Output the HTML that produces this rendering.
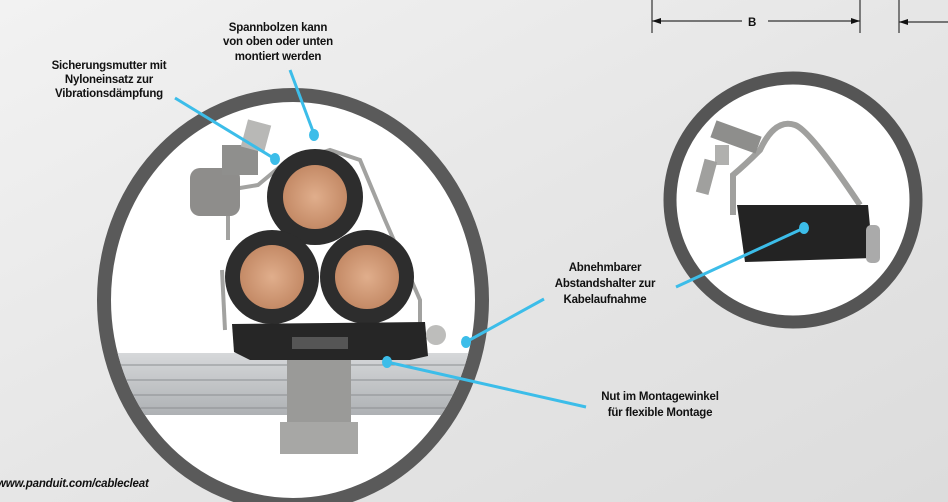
<!DOCTYPE html>
<html><head><meta charset="utf-8"><style>
html,body{margin:0;padding:0;width:948px;height:502px;overflow:hidden}
text{font-family:"Liberation Sans",sans-serif;font-weight:bold;font-size:11.5px;fill:#111;letter-spacing:-0.2px}
</style></head><body>
<svg width="948" height="502" viewBox="0 0 948 502" xmlns="http://www.w3.org/2000/svg">
<defs>
<linearGradient id="bg" x1="0" y1="0" x2="1" y2="1">
<stop offset="0" stop-color="#f2f2f2"/><stop offset="0.5" stop-color="#e6e6e6"/><stop offset="1" stop-color="#dcdcdc"/>
</linearGradient>
<radialGradient id="cu" cx="0.5" cy="0.5" r="0.5"><stop offset="0" stop-color="#e0ae8c"/><stop offset="1" stop-color="#c48a66"/></radialGradient>
<linearGradient id="rail" x1="0" y1="0" x2="0" y2="1"><stop offset="0" stop-color="#d6d8da"/><stop offset="1" stop-color="#aeb1b4"/></linearGradient>
<clipPath id="c1"><ellipse cx="293" cy="300" rx="182" ry="198"/></clipPath>
</defs>
<rect width="948" height="502" fill="url(#bg)"/>
<!-- dimension -->
<g stroke="#333" stroke-width="1.2">
<line x1="652" y1="0" x2="652" y2="33"/><line x1="860" y1="0" x2="860" y2="33"/><line x1="899" y1="0" x2="899" y2="33"/>
<line x1="652" y1="21" x2="742" y2="21"/><line x1="768" y1="21" x2="860" y2="21"/><line x1="899" y1="22" x2="948" y2="22"/>
</g>
<polygon points="652,21 661,18 661,24" fill="#111"/><polygon points="860,21 851,18 851,24" fill="#111"/><polygon points="899,22 908,19 908,25" fill="#111"/>
<text x="748" y="26" font-size="14">B</text>
<!-- big circle -->
<ellipse cx="293" cy="300" rx="189" ry="205" fill="#fff" stroke="#5a5a5a" stroke-width="14"/>
<g clip-path="url(#c1)">
<rect x="100" y="353" width="390" height="62" fill="url(#rail)"/>
<g stroke="#8c8f92" stroke-width="1"><line x1="100" y1="365" x2="490" y2="365"/><line x1="100" y1="380" x2="490" y2="380"/><line x1="100" y1="395" x2="490" y2="395"/><line x1="100" y1="408" x2="490" y2="408"/></g>
<rect x="287" y="355" width="64" height="70" fill="#9a9a98"/>
<rect x="280" y="422" width="78" height="32" fill="#a7a7a5"/>
</g>
<!-- clamp arms -->
<path d="M228 240 L228 190 L258 185 L282 165 L330 150 L360 160 L385 220 L420 300 L420 330" fill="none" stroke="#a2a2a0" stroke-width="4"/>
<path d="M222 270 L225 330" stroke="#a2a2a0" stroke-width="4"/>
<rect x="190" y="168" width="50" height="48" rx="10" fill="#8e8d8b"/>
<rect x="222" y="145" width="36" height="30" fill="#8f8f8d"/>
<rect x="244" y="122" width="24" height="28" fill="#b8b8b6" transform="rotate(15 256 136)"/>
<!-- cables -->
<circle cx="315" cy="197" r="48" fill="#2d2d2d"/><circle cx="315" cy="197" r="32" fill="url(#cu)"/>
<circle cx="272" cy="277" r="47" fill="#2d2d2d"/><circle cx="272" cy="277" r="32" fill="url(#cu)"/>
<circle cx="367" cy="277" r="47" fill="#2d2d2d"/><circle cx="367" cy="277" r="32" fill="url(#cu)"/>
<!-- spacer -->
<path d="M232 324 L425 322 L428 356 L410 360 L250 360 L234 352 Z" fill="#262626"/>
<rect x="292" y="337" width="56" height="12" fill="#555"/>
<circle cx="436" cy="335" r="10" fill="#bdbdbb"/>
<!-- small circle -->
<ellipse cx="793" cy="200" rx="123" ry="122" fill="#fff" stroke="#555" stroke-width="13"/>
<path d="M733 215 L733 175 Q745 165 760 150 Q775 118 795 125 Q810 130 860 205" fill="none" stroke="#a0a09e" stroke-width="6"/>
<rect x="712" y="128" width="48" height="18" fill="#8e8e8c" transform="rotate(20 736 137)"/>
<rect x="715" y="145" width="14" height="20" fill="#b0b0ae"/>
<rect x="700" y="160" width="13" height="34" fill="#a0a09e" transform="rotate(15 707 177)"/>
<path d="M737 205 L868 205 L873 258 L745 262 Z" fill="#232323"/>
<rect x="866" y="225" width="14" height="38" rx="5" fill="#aaa"/>
<!-- callout lines -->
<g stroke="#3cbde9" stroke-width="3" fill="none">
<line x1="175" y1="98" x2="275" y2="159"/>
<line x1="290" y1="70" x2="314" y2="134"/>
<line x1="544" y1="299" x2="466" y2="342"/>
<line x1="387" y1="362" x2="586" y2="407"/>
<line x1="676" y1="287" x2="804" y2="228"/>
</g>
<g fill="#3cbde9"><ellipse cx="275" cy="159" rx="5" ry="6"/><ellipse cx="314" cy="135" rx="5" ry="6"/><ellipse cx="466" cy="342" rx="5" ry="6"/><ellipse cx="387" cy="362" rx="5" ry="6"/><ellipse cx="804" cy="228" rx="5" ry="6"/></g>
<!-- labels -->
<g text-anchor="middle">
<text x="278" y="31">Spannbolzen kann</text>
<text x="278" y="45">von oben oder unten</text>
<text x="278" y="60">montiert werden</text>
<text x="109" y="69">Sicherungsmutter mit</text>
<text x="109" y="83">Nyloneinsatz zur</text>
<text x="109" y="97">Vibrationsdämpfung</text>
<text x="605" y="271">Abnehmbarer</text>
<text x="605" y="287">Abstandshalter zur</text>
<text x="605" y="303">Kabelaufnahme</text>
<text x="660" y="400">Nut im Montagewinkel</text>
<text x="660" y="416">für flexible Montage</text>
</g>
<text x="-3" y="487" font-style="italic" font-size="11">www.panduit.com/cablecleat</text>
</svg>
</body></html>
